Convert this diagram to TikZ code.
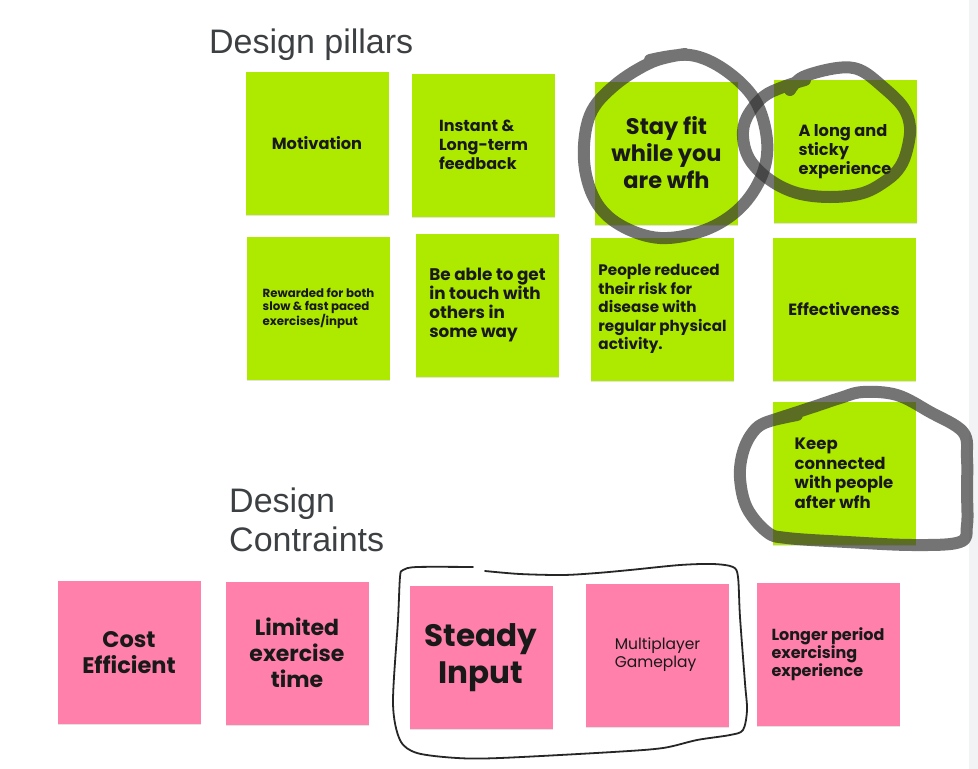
\documentclass[tikz,border=0pt]{standalone}
\usepackage{fontspec}
\usepackage{xcolor}
\usepackage{tikz}
\usetikzlibrary{shapes.geometric, shadows}
\setmainfont{Liberation Sans}
\newfontfamily\stickyfont{Poppins}
\definecolor{pillargreen}{HTML}{AEEA00}
\definecolor{limitpink}{HTML}{FF80AB}
\definecolor{headgrey}{HTML}{3C4043}
\definecolor{panelgrey}{HTML}{F1F3F4}

\begin{document}
\begin{tikzpicture}[x=1pt, y=-1pt]
\tikzstyle{note} = [rectangle, minimum width=143pt, minimum height=143pt, inner sep=0pt, text=black!90,
  drop shadow={shadow xshift=0pt, shadow yshift=-1.2pt, opacity=.22}]
\tikzstyle{pillar} = [note, fill=pillargreen]
\tikzstyle{limit} = [note, fill=limitpink]
\tikzstyle{heading} = [inner sep=0pt, text=headgrey, font=\fontsize{34}{39}\selectfont, align=left]
\tikzstyle{brush} = [draw=black!80, draw opacity=.68, line width=12pt, line cap=round, line join=round]
\tikzstyle{pen} = [draw=black!85, line width=1.8pt, line cap=round, line join=round]
\newcommand{\sticky}[2]{\stickyfont\bfseries\fontsize{#1}{#2}\selectfont}

\useasboundingbox (0,0) rectangle (978,769);
\fill[white] (0,0) rectangle (978,769);
\fill[panelgrey] (969,0) rectangle (978,769);

% headings
\node[heading, anchor=base west] (pillars) at (209,53) {Design pillars};
\node[heading, anchor=north west] (constraints) at (229,488) {Design\\Contraints};

% design pillars
\node[pillar, font=\sticky{16.2}{19}] (motiv) at (317,143.5) {Motivation};
\node[pillar, font=\sticky{16}{19}, align=left] (feedback) at (483.5,145) {Instant \&\\Long-term\\feedback};
\node[pillar, font=\sticky{22.5}{27}, align=center] (stayfit) at (666.5,153) {Stay fit\\while you\\are wfh};
\node[pillar, font=\sticky{16.2}{19}, align=left] (sticky) at (845,151.5) {A long and\\sticky\\experience};

\node[pillar, font=\sticky{11.8}{13.5}, align=left] (rewarded) at (318.5,308.5) {Rewarded for both\\slow \& fast paced\\exercises/input};
\node[pillar, font=\sticky{16.8}{19}, align=left] (touch) at (487.5,305) {Be able to get\\in touch with\\others in\\some way};
\node[pillar, font=\sticky{15.2}{18.4}, align=left] (risk) at (662.5,309) {People reduced\\their risk for\\disease with\\regular physical\\activity.};
\node[pillar, font=\sticky{16.3}{19}] (effect) at (844,309) {Effectiveness};
\node[pillar, font=\sticky{16.5}{19.5}, align=left] (keep) at (844,473.5) {Keep\\connected\\with people\\after wfh};

% design constraints
\node[limit, font=\sticky{22.5}{26}, align=center] (cost) at (129,652.5) {Cost\\Efficient};
\node[limit, font=\sticky{22}{26}, align=center] (limited) at (297,653) {Limited\\exercise\\time};
\node[limit, font=\sticky{31}{37}, align=center] (steady) at (481,657.5) {Steady\\Input};
\node[limit, font=\stickyfont\fontsize{15.5}{18}\selectfont, align=left] (multi) at (657.5,655) {Multiplayer\\Gameplay};
\node[limit, font=\sticky{16}{18}, align=left] (longer) at (828,654) {Longer period\\exercising\\experience};

% hand drawn marks
\draw[brush] plot[smooth, tension=.6] coordinates {(650,60) (690,55) (725,70) (755,100) (767,140) (762,175) (740,208) (705,230) (660,238) (620,225) (595,200) (584,160) (590,115) (615,85) (652,62) (685,54)};
\draw[brush] plot[smooth, tension=.6] coordinates {(790,90) (803,77) (837,68) (860,70) (883,87) (903,107) (910,127) (907,150) (900,167) (887,180) (863,193) (830,197) (797,193) (770,180) (750,160) (743,137) (747,117) (763,97) (783,87) (805,80)};
\draw[brush] plot[smooth, tension=.6] coordinates {(767,422) (813,407) (840,398) (863,392) (897,395) (930,412) (963,432) (967,458) (967,492) (967,525) (960,542) (913,545) (847,542) (787,538) (767,532) (747,508) (740,478) (743,452) (753,432) (767,422) (797,415)};
\draw[pen] plot[smooth, tension=.5] coordinates {(485,571) (520,574) (563,575) (597,573) (630,570) (680,565) (713,564) (733,567) (738,577) (740,617) (745,683) (747,710) (743,730) (730,735) (697,740) (663,748) (613,752) (500,758) (457,758) (417,753) (400,740) (393,703) (398,620) (400,577) (403,570) (417,567) (473,567)};
\end{tikzpicture}
\end{document}
